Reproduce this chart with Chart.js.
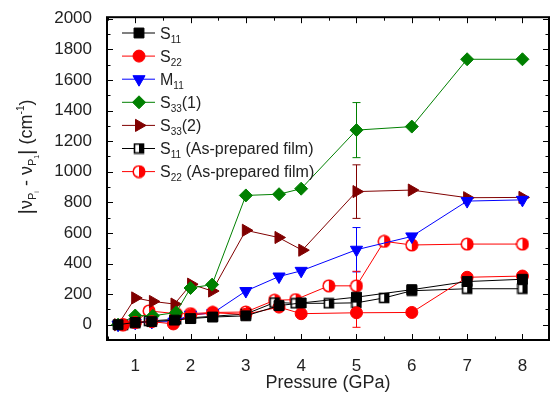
<!DOCTYPE html>
<html>
<head>
<meta charset="utf-8">
<script src="https://cdn.jsdelivr.net/npm/chart.js@4/dist/chart.umd.min.js"></script>
<style>
  html, body { margin: 0; background: #fff; }
  #wrap { width: 557px; height: 399px; }
</style>
</head>
<body>
<div id="wrap"><canvas id="chart"></canvas></div>
<script>
// pressure (GPa) and shift |vPi - vP1| (cm-1) per band
const pS11 = [0.69, 1.0, 1.3, 1.71, 2.0, 2.4, 3.0, 3.6, 4.0, 5, 6, 7, 8];
const vS11 = [0, 15, 20, 30, 40, 50, 58, 125, 142, 180, 229, 282, 297];

const pS22 = [0.78, 1.0, 1.3, 1.69, 2.0, 2.4, 3.0, 3.6, 4.0, 5, 6, 7, 8];
const vS22 = [0, 15, 20, 5, 62, 78, 68, 115, 72, 78, 80, 310, 318];

const pM11 = [0.69, 1.0, 1.3, 1.7, 2.0, 2.4, 3.0, 3.6, 4.0, 5, 6, 7, 8];
const vM11 = [0, 12, 18, 20, 65, 75, 220, 315, 352, 490, 577, 808, 816];

const pS33a = [0.69, 1.0, 1.32, 1.74, 2.0, 2.39, 3.0, 3.6, 4.0, 5, 6, 7, 8];
const vS33a = [0, 60, 58, 80, 240, 262, 845, 853, 889, 1272, 1295, 1735, 1735];

const pS33b = [0.69, 1.0, 1.32, 1.71, 2.01, 2.39, 3.0, 3.59, 4.02, 5, 6, 7, 8];
const vS33b = [0, 175, 152, 135, 265, 220, 617, 570, 487, 870, 880, 830, 832];

const pS11f = [0.78, 1.0, 1.25, 1.74, 2.0, 2.4, 3.0, 3.52, 3.9, 4.5, 5.0, 5.5, 6, 7, 8];
const vS11f = [0, 10, 25, 35, 45, 55, 70, 145, 140, 140, 143, 175, 222, 235, 235];

const pS22f = [0.78, 1.0, 1.25, 1.74, 2.0, 2.4, 3.0, 3.52, 3.9, 4.5, 5.0, 5.5, 6, 7, 8];
const vS22f = [0, 15, 90, 72, 72, 80, 83, 160, 164, 254, 254, 545, 521, 527, 527];

// error bars at 5 GPa: [pressure, half-width]
const errS22 = [[5, 95]];
const errM11 = [[5, 145]];
const errS33a = [[5, 180]];
const errS33b = [[5, 175]];
const errS22f = [[5, 95]];

const xTicks = [1, 2, 3, 4, 5, 6, 7, 8];
const yTicks = [0, 200, 400, 600, 800, 1000, 1200, 1400, 1600, 1800, 2000];

const FONT = '"Liberation Sans", Arial, sans-serif';
const TXT = '#222';

function pts(xs, ys) {
  return xs.map((x, i) => ({ x: x, y: ys[i] }));
}

// half-filled markers for the as-prepared film
function halfSquare(color) {
  const c = document.createElement('canvas');
  c.width = 12; c.height = 12;
  const g = c.getContext('2d');
  g.fillStyle = '#fff'; g.fillRect(1, 1, 10, 10);
  g.fillStyle = color; g.fillRect(6, 1, 5, 10);
  g.strokeStyle = color; g.lineWidth = 1.6; g.strokeRect(1.5, 1.5, 9, 9);
  return c;
}
function halfCircle(color) {
  const c = document.createElement('canvas');
  c.width = 14; c.height = 14;
  const g = c.getContext('2d');
  g.fillStyle = '#fff';
  g.beginPath(); g.arc(7, 7, 5.8, 0, Math.PI * 2); g.fill();
  g.fillStyle = color;
  g.beginPath(); g.arc(7, 7, 5.8, -Math.PI / 2, Math.PI / 2); g.closePath(); g.fill();
  g.strokeStyle = color; g.lineWidth = 1.5;
  g.beginPath(); g.arc(7, 7, 5.8, 0, Math.PI * 2); g.stroke();
  return c;
}

function series(label, sub, tail, xs, ys, color, style, radius, rot, err) {
  return {
    label: label, sub: sub, tail: tail, err: err || [],
    data: pts(xs, ys),
    borderColor: color, backgroundColor: color,
    borderWidth: 1,
    pointStyle: style, pointRadius: radius, pointRotation: rot || 0,
    pointBorderWidth: 1, pointBorderColor: color, pointBackgroundColor: color,
    tension: 0
  };
}

const datasets = [
  series('S', '11', '', pS11, vS11, '#000000', 'rect', 7),
  series('S', '22', '', pS22, vS22, '#ff0000', 'circle', 6, 0, errS22),
  series('M', '11', '', pM11, vM11, '#0000ff', 'triangle', 7, 180, errM11),
  series('S', '33', '(1)', pS33a, vS33a, '#008000', 'rectRot', 6.5, 0, errS33a),
  series('S', '33', '(2)', pS33b, vS33b, '#800000', 'triangle', 7, 90, errS33b),
  series('S', '11', ' (As-prepared film)', pS11f, vS11f, '#000000', halfSquare('#000000'), 6),
  series('S', '22', ' (As-prepared film)', pS22f, vS22f, '#ff0000', halfCircle('#ff0000'), 6, 0, errS22f)
];

// frame with inward ticks on every side, plus error bars
const framePlugin = {
  id: 'frame',
  beforeDatasetsDraw(chart) {
    const { ctx, chartArea: a, scales: { x, y } } = chart;
    ctx.save();
    ctx.strokeStyle = '#000';
    ctx.lineWidth = 1;
    for (let v = 0.5; v <= 8.5; v += 0.5) {
      const px = Math.round(x.getPixelForValue(v)) + 0.5;
      if (px < a.left + 1 || px > a.right - 1) continue;
      const len = Number.isInteger(v) ? 6 : 3.5;
      ctx.beginPath();
      ctx.moveTo(px, a.bottom); ctx.lineTo(px, a.bottom - len);
      ctx.moveTo(px, a.top); ctx.lineTo(px, a.top + len);
      ctx.stroke();
    }
    for (let v = 0; v <= 2000; v += 100) {
      const py = Math.round(y.getPixelForValue(v)) + 0.5;
      if (py < a.top + 1 || py > a.bottom - 1) continue;
      const len = v % 200 === 0 ? 6 : 3.5;
      ctx.beginPath();
      ctx.moveTo(a.left, py); ctx.lineTo(a.left + len, py);
      ctx.moveTo(a.right, py); ctx.lineTo(a.right - len, py);
      ctx.stroke();
    }
    ctx.lineWidth = 2;
    ctx.strokeRect(a.left, a.top, a.right - a.left, a.bottom - a.top);

    // error bars
    ctx.lineWidth = 1;
    chart.data.datasets.forEach(ds => {
      ds.err.forEach(([px, e]) => {
        const pt = ds.data.find(p => p.x === px);
        if (!pt) return;
        const cx = Math.round(x.getPixelForValue(px)) + 0.5;
        const y1 = y.getPixelForValue(pt.y + e);
        const y2 = y.getPixelForValue(pt.y - e);
        ctx.strokeStyle = ds.borderColor;
        ctx.beginPath();
        ctx.moveTo(cx, y1); ctx.lineTo(cx, y2);
        ctx.moveTo(cx - 4, y1); ctx.lineTo(cx + 4, y1);
        ctx.moveTo(cx - 4, y2); ctx.lineTo(cx + 4, y2);
        ctx.stroke();
      });
    });
    ctx.restore();
  }
};

// draw a run of text pieces: [text, size, dy]
function pieces(ctx, list, x0, y0, measureOnly) {
  let x = x0;
  list.forEach(([t, size, dy]) => {
    ctx.font = size + 'px ' + FONT;
    if (!measureOnly) ctx.fillText(t, x, y0 + dy);
    x += ctx.measureText(t).width;
  });
  return x - x0;
}

const legendPlugin = {
  id: 'texLegend',
  afterDraw(chart) {
    const { ctx } = chart;
    ctx.save();
    ctx.textBaseline = 'alphabetic';
    chart.data.datasets.forEach((ds, i) => {
      const cy = 33 + i * 23.1;
      ctx.strokeStyle = ds.borderColor;
      ctx.fillStyle = ds.borderColor;
      ctx.lineWidth = 1;
      ctx.beginPath();
      ctx.moveTo(122, cy); ctx.lineTo(155, cy);
      ctx.stroke();
      Chart.helpers.drawPoint(ctx, {
        pointStyle: ds.pointStyle, radius: ds.pointRadius, rotation: ds.pointRotation,
        borderWidth: 1
      }, 139, cy);
      ctx.fillStyle = TXT;
      pieces(ctx, [[ds.label, 16, 0], [ds.sub, 10, 4], [ds.tail, 16, 0]], 160, cy + 5.5);
    });

    // y axis title, rotated
    ctx.fillStyle = TXT;
    const title = [
      ['|', 21, 1], ['ν', 18, 0], ['P', 11, 4], ['i', 7, 7],
      [' - ν', 18, 0], ['P', 11, 4], ['1', 7, 7], ['|', 21, 1],
      [' (cm', 18, 0], ['-1', 10, -8], [')', 18, 0]
    ];
    const w = pieces(ctx, title, 0, 0, true);
    ctx.translate(32, 157);
    ctx.rotate(-Math.PI / 2);
    pieces(ctx, title, -w / 2, 0);
    ctx.restore();
  }
};

new Chart(document.getElementById('chart'), {
  type: 'line',
  data: { datasets: datasets },
  options: {
    responsive: true,
    maintainAspectRatio: false,
    animation: false,
    layout: { padding: { top: 13, right: 4 } },
    plugins: { legend: { display: false }, tooltip: { enabled: false } },
    scales: {
      x: {
        type: 'linear', min: 0.49, max: 8.48,
        grid: { display: false }, border: { display: false },
        afterBuildTicks: s => { s.ticks = xTicks.map(v => ({ value: v })); },
        afterFit: s => { s.height = 59; },
        ticks: { color: TXT, font: { family: FONT, size: 17 }, padding: 8, maxRotation: 0,
          callback: v => String(v) },
        title: { display: true, text: 'Pressure (GPa)', color: TXT,
          font: { family: FONT, size: 18 }, padding: { top: 0, bottom: 5 } }
      },
      y: {
        type: 'linear', min: -100, max: 2010,
        grid: { display: false }, border: { display: false },
        afterBuildTicks: s => { s.ticks = yTicks.map(v => ({ value: v })); },
        afterFit: s => { s.width = 107; },
        ticks: { color: TXT, font: { family: FONT, size: 17 }, padding: 7,
          callback: v => String(v) }
      }
    }
  },
  plugins: [framePlugin, legendPlugin]
});
</script>
</body>
</html>
